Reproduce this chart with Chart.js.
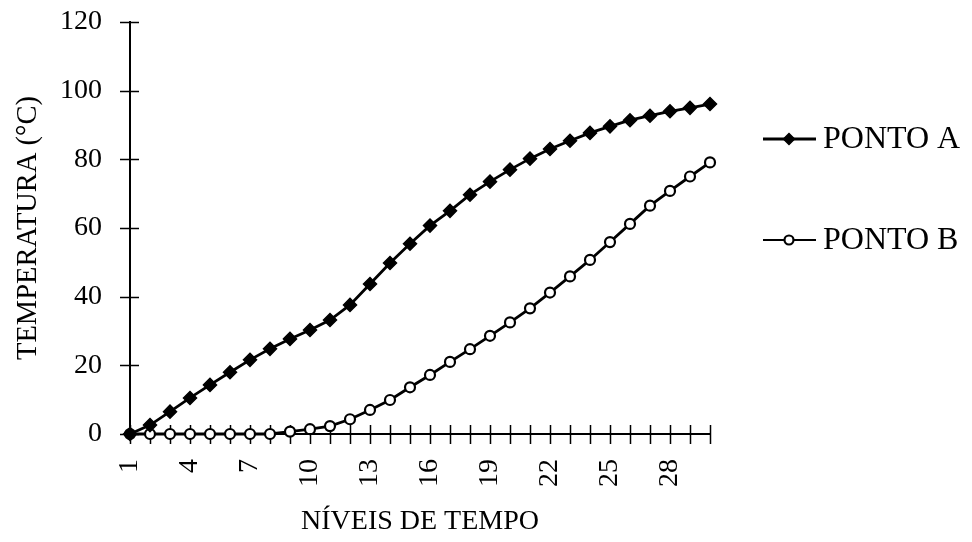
<!DOCTYPE html>
<html>
<head>
<meta charset="utf-8">
<title>Temperatura x níveis de tempo</title>
<script src="https://cdn.jsdelivr.net/npm/chart.js@4.4.1/dist/chart.umd.min.js"></script>
<style>
    html, body { margin: 0; padding: 0; background: #fff; }
    #wrap { width: 972px; height: 542px; }
</style>
</head>
<body>
<div id="wrap"><canvas id="tempChart" width="972" height="542"></canvas></div>
<script>
// Time levels 1..30
const niveis = ['1', '2', '3', '4', '5', '6', '7', '8', '9', '10',
    '11', '12', '13', '14', '15', '16', '17', '18', '19', '20',
    '21', '22', '23', '24', '25', '26', '27', '28', '29', '30'];

// Temperature readings (°C)
const pontoA = [0, 2.6, 6.5, 10.5, 14.3, 18, 21.6, 24.8, 27.7, 30.3,
    33.2, 37.6, 43.7, 49.8, 55.4, 60.7, 65, 69.7, 73.5, 77,
    80.2, 83, 85.4, 87.7, 89.6, 91.4, 92.7, 94, 95, 96.1];
const pontoB = [0, 0, 0, 0, 0, 0, 0, 0, 0.7, 1.4,
    2.3, 4.3, 7, 9.9, 13.6, 17.2, 21, 24.7, 28.6, 32.5,
    36.6, 41.2, 45.9, 50.7, 55.9, 61.2, 66.5, 70.8, 75, 79.1];

const yTicks = [0, 20, 40, 60, 80, 100, 120];

const FONT = 'Liberation Serif, Times New Roman, serif';

const seriesA = {
    label: 'PONTO A',
    data: pontoA,
    borderColor: '#000',
    backgroundColor: '#000',
    borderWidth: 2.8,
    pointStyle: 'rectRot',
    pointRadius: 6.5,
    pointBorderWidth: 1.5,
    pointBackgroundColor: '#000',
    pointBorderColor: '#000',
    tension: 0,
    clip: false
};

const seriesB = {
    label: 'PONTO B',
    data: pontoB,
    borderColor: '#000',
    backgroundColor: '#fff',
    borderWidth: 2.8,
    pointStyle: 'circle',
    pointRadius: 5,
    pointBorderWidth: 2.2,
    pointBackgroundColor: '#fff',
    pointBorderColor: '#000',
    tension: 0,
    clip: false
};

// Tick marks that cross the axis lines
const crossTicks = {
    id: 'crossTicks',
    beforeDatasetsDraw(chart) {
        const ctx = chart.ctx;
        const x = chart.scales.x;
        const y = chart.scales.y;
        ctx.save();
        ctx.strokeStyle = '#000';
        ctx.lineWidth = 1.5;
        ctx.beginPath();
        x.ticks.forEach((t, i) => {
            const px = Math.round(x.getPixelForTick(i)) + 0.5;
            ctx.moveTo(px, y.bottom - 9);
            ctx.lineTo(px, y.bottom + 10);
        });
        y.ticks.forEach((t, i) => {
            const py = Math.round(y.getPixelForTick(i)) + 0.5;
            ctx.moveTo(x.left - 10, py);
            ctx.lineTo(x.left + 9, py);
        });
        ctx.stroke();
        ctx.restore();
    }
};

// Legend on the right: short line with the marker in the middle
const sideLegend = {
    id: 'sideLegend',
    afterDraw(chart) {
        const ctx = chart.ctx;
        const rows = [
            { ds: chart.data.datasets[0], y: 139, r: 5.5, w: 2.8 },
            { ds: chart.data.datasets[1], y: 240, r: 4.5, w: 2 }
        ];
        ctx.save();
        rows.forEach(row => {
            const ds = row.ds;
            ctx.strokeStyle = ds.borderColor;
            ctx.lineWidth = row.w;
            ctx.beginPath();
            ctx.moveTo(763, row.y);
            ctx.lineTo(816, row.y);
            ctx.stroke();
            ctx.fillStyle = ds.pointBackgroundColor;
            ctx.strokeStyle = ds.pointBorderColor;
            ctx.lineWidth = ds.pointBorderWidth;
            Chart.helpers.drawPoint(ctx, {
                pointStyle: ds.pointStyle,
                radius: row.r,
                rotation: 0,
                borderWidth: ds.pointBorderWidth
            }, 789, row.y);
            ctx.fillStyle = '#000';
            ctx.font = '32px ' + FONT;
            ctx.textBaseline = 'middle';
            ctx.textAlign = 'left';
            ctx.fillText(ds.label, 823, row.y + 1);
        });
        ctx.restore();
    }
};

const ctx = document.getElementById('tempChart');
new Chart(ctx, {
    type: 'line',
    data: {
        labels: niveis,
        datasets: [seriesA, seriesB]
    },
    options: {
        responsive: false,
        animation: false,
        layout: { padding: { top: 0, right: 262, left: 0, bottom: 0 } },
        plugins: {
            legend: { display: false },
            tooltip: { enabled: false }
        },
        scales: {
            x: {
                type: 'category',
                offset: false,
                grid: { display: false },
                border: { display: true, color: '#000', width: 2 },
                ticks: {
                    autoSkip: false,
                    minRotation: 90,
                    maxRotation: 90,
                    padding: 17,
                    color: '#000',
                    font: { family: FONT, size: 28 },
                    callback: function (value, index) {
                        return index % 3 === 0 ? niveis[index] : '';
                    }
                },
                title: {
                    display: true,
                    text: 'NÍVEIS DE TEMPO',
                    color: '#000',
                    font: { family: FONT, size: 28 },
                    padding: { top: 0, bottom: 4 }
                },
                afterFit: function (scale) { scale.height = 108; }
            },
            y: {
                min: 0,
                max: 120,
                grid: { display: false },
                border: { display: true, color: '#000', width: 2 },
                afterBuildTicks: function (scale) {
                    scale.ticks = yTicks.map(v => ({ value: v }));
                },
                ticks: {
                    padding: 20,
                    color: '#000',
                    font: { family: FONT, size: 28 }
                },
                title: {
                    display: true,
                    text: 'TEMPERATURA (°C)',
                    color: '#000',
                    font: { family: FONT, size: 28.5 },
                    padding: { top: 11, bottom: 0 }
                },
                afterFit: function (scale) {
                    scale.width = 130;
                    // keep the plot top at the 120 tick line
                    scale.paddingTop = 22;
                    scale.paddingBottom = 0;
                }
            }
        }
    },
    plugins: [crossTicks, sideLegend]
});
</script>
</body>
</html>
